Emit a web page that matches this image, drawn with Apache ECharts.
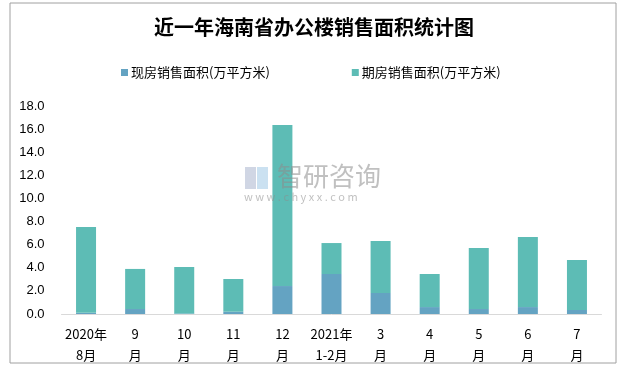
<!DOCTYPE html>
<html><head><meta charset="utf-8">
<script src="https://cdn.jsdelivr.net/npm/echarts@6/dist/echarts.min.js"></script>
<style>html,body{margin:0;padding:0;background:#fff}#c{width:628px;height:369px}</style>
</head><body><div id="c"></div>
<script>
const categories = ['2020年\n8月','9\n月','10\n月','11\n月','12\n月','2021年\n1-2月','3\n月','4\n月','5\n月','6\n月','7\n月'];
const spotSales = [0.1, 0.43, 0.05, 0.2, 2.42, 3.46, 1.82, 0.6, 0.43, 0.6, 0.35];
const futureSales = [7.43, 3.47, 4.02, 2.83, 13.93, 2.68, 4.49, 2.86, 5.28, 6.06, 4.32];
const yTicks = [0, 2, 4, 6, 8, 10, 12, 14, 16, 18];
const seriesNames = ['现房销售面积(万平方米)', '期房销售面积(万平方米)'];

const chart = echarts.init(document.getElementById('c'));
const font = '"Noto Sans CJK SC", "Liberation Sans", sans-serif';
chart.setOption({
  animation: false,
  title: {
    text: '近一年海南省办公楼销售面积统计图',
    left: 'center', top: 12,
    textStyle: {fontFamily: font, fontSize: 20, fontWeight: 'bold', color: '#000'}
  },
  legend: {
    top: 61, left: 116, itemGap: 82,
    itemWidth: 7, itemHeight: 7, icon: 'rect',
    textStyle: {fontFamily: font, fontSize: 13, color: '#000', padding: [0,0,0,-2]},
    data: seriesNames
  },
  graphic: [{
    type: 'rect', shape: {x: 10, y: 3, width: 606, height: 360},
    style: {fill: 'none', stroke: '#a0a0a0', lineWidth: 1}
  }, {
    type: 'group', left: 245, top: 167, z: 100, children: [
      {type: 'rect', shape: {x: 0, y: 0, width: 11, height: 22}, style: {fill: 'rgba(170,180,205,0.55)'}},
      {type: 'rect', shape: {x: 12, y: 0, width: 11, height: 22}, style: {fill: 'rgba(160,200,230,0.55)'}}
    ]
  }, {
    type: 'text', left: 277, top: 163, z: 100,
    style: {text: '智研咨询', fontSize: 26, fill: 'rgba(140,140,140,0.55)', fontFamily: font}
  }, {
    type: 'text', left: 244, top: 191, z: 100,
    style: {text: 'w w w . c h y x x . c o m', fontSize: 11, fill: 'rgba(140,140,140,0.55)', fontFamily: font}
  }],
  grid: {left: 61.5, right: 26.5, top: 106, bottom: 55},
  xAxis: {
    type: 'category', data: categories,
    axisLine: {lineStyle: {color: '#d9d9d9'}},
    axisTick: {show: false},
    axisLabel: {fontFamily: font, fontSize: 13, color: '#000', lineHeight: 21, margin: 10, interval: 0}
  },
  yAxis: {
    type: 'value', min: yTicks[0], max: yTicks[yTicks.length-1], interval: 2,
    splitLine: {show: false},
    axisLine: {show: false}, axisTick: {show: false},
    axisLabel: {fontFamily: '"Liberation Sans", sans-serif', fontSize: 13, color: '#000', margin: 17,
      formatter: v => v.toFixed(1)}
  },
  series: [{
    name: seriesNames[0], type: 'bar', stack: 'a', data: spotSales, barWidth: 20,
    itemStyle: {color: '#64A3C2'}
  }, {
    name: seriesNames[1], type: 'bar', stack: 'a', data: futureSales, barWidth: 20,
    itemStyle: {color: '#5DBCB5'}
  }]
});
</script></body></html>
